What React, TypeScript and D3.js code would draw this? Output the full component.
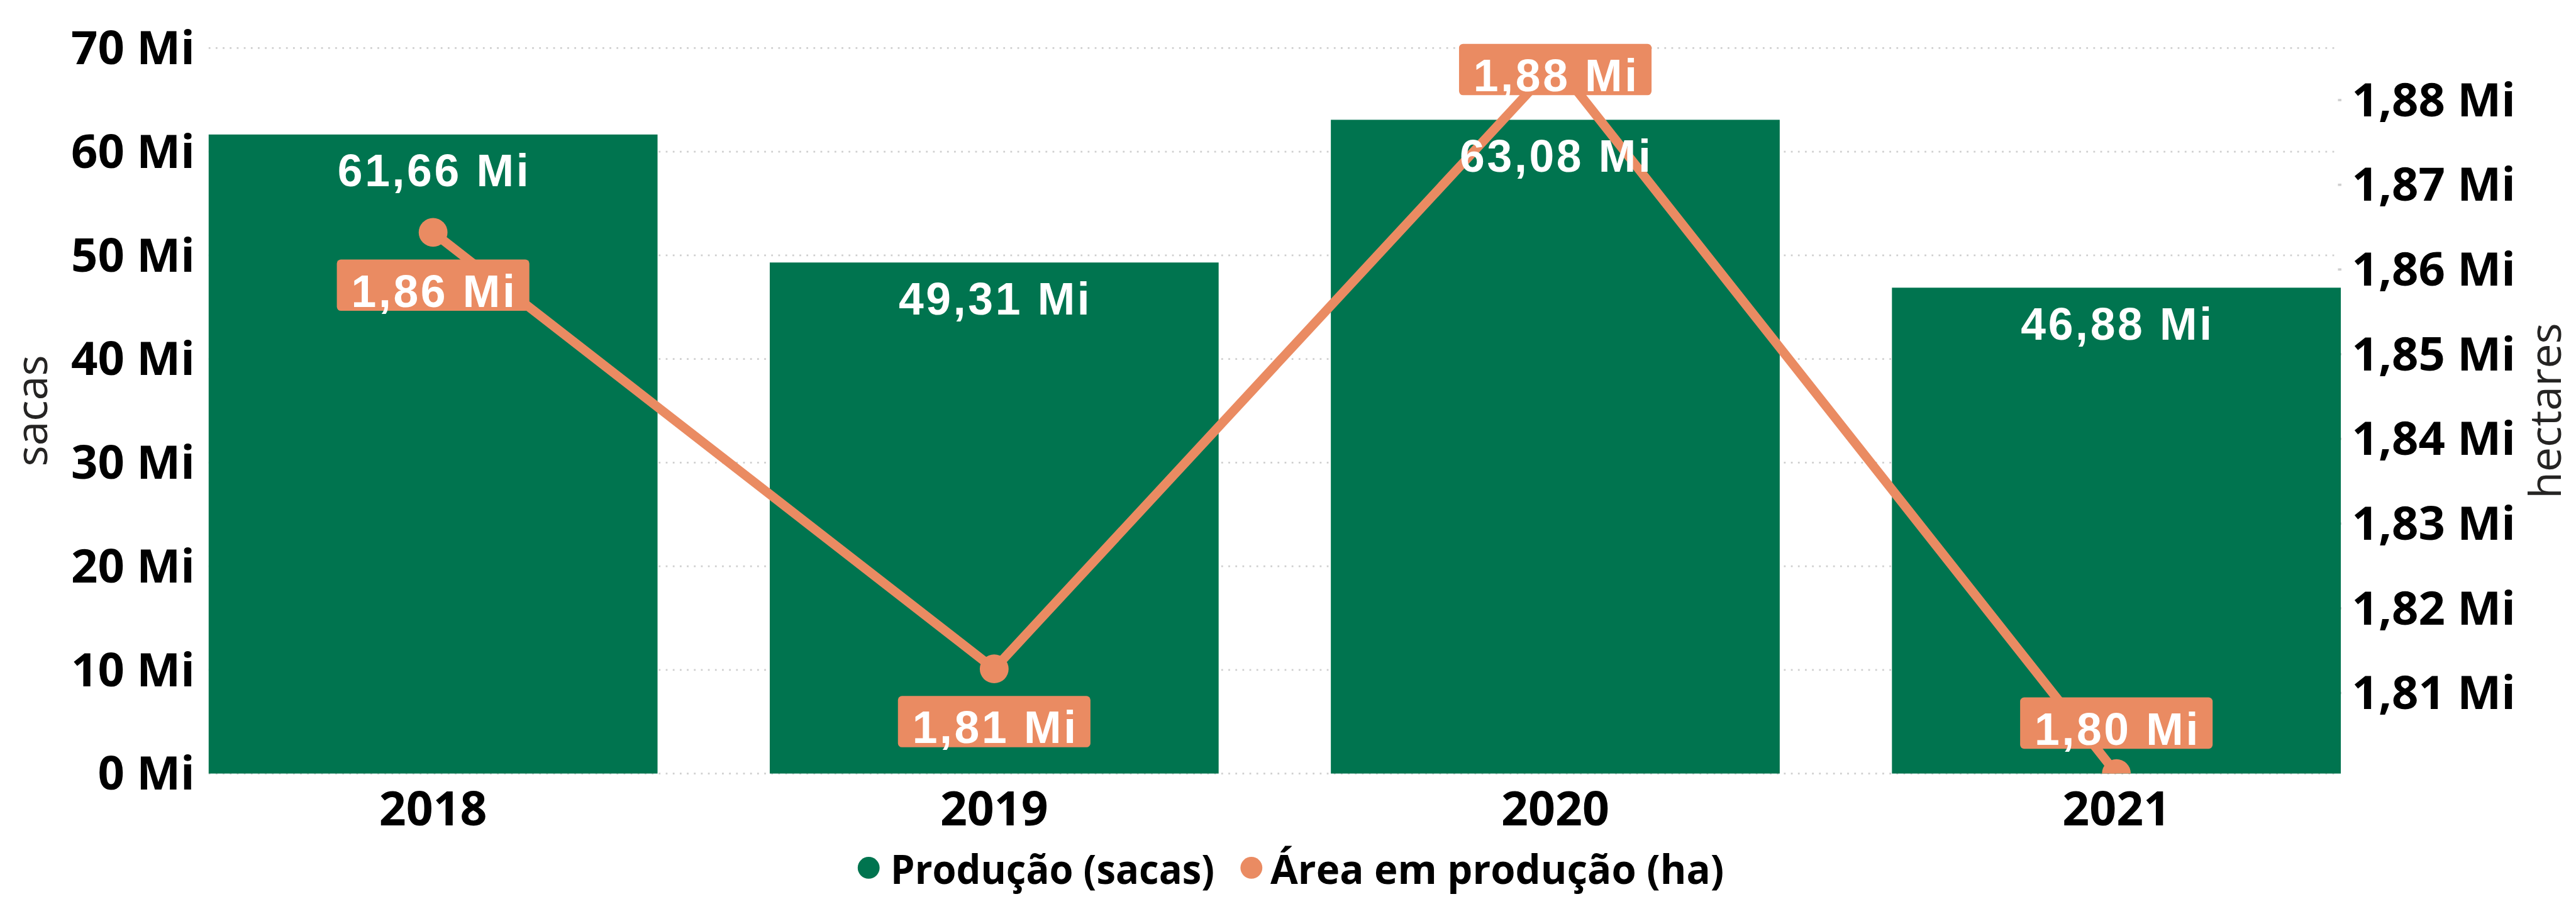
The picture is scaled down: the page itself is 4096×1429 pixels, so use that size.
import React from 'react';
import * as d3 from 'd3';

// ---- data ----
const years: string[] = ['2018', '2019', '2020', '2021'];
const producaoMi: number[] = [61.66, 49.31, 63.08, 46.88]; // sacas (Mi)
const areaMi: number[] = [1.86438, 1.81285, 1.88432, 1.80049]; // hectares (Mi)
const leftTicks: number[] = [0, 10, 20, 30, 40, 50, 60, 70];
const rightTicks: number[] = [1.81, 1.82, 1.83, 1.84, 1.85, 1.86, 1.87, 1.88];
const leftDomain: number[] = [0, 70];
const rightDomain: number[] = [1.80049, 1.88614];
const legendItems: string[] = ['Produção (sacas)', 'Área em produção (ha)'];
const labelPlacement: string[] = ['below', 'below', 'top', 'above'];

// ---- layout (reference pixel space 4469 x 1559) ----
const W = 4469;
const H = 1559;
const plotLeft = 362;
const plotRight = 4061;
const plotTop = 83.3;
const plotBottom = 1341.5;
const GREEN = '#00744F';
const ORANGE = '#EA8B62';
const AXIS_FONT = "'Open Sans', 'Noto Sans', sans-serif";
const LABEL_FONT = "'Liberation Sans', Arial, sans-serif";

const fmt = (v: number) => v.toFixed(2).replace('.', ',') + ' Mi';

export default function App() {
  const x = d3.scaleBand<string>().domain(years).range([plotLeft, plotRight]).paddingInner(0.2).paddingOuter(0);
  const yL = d3.scaleLinear().domain(leftDomain).range([plotBottom, plotTop]);
  const yR = d3.scaleLinear().domain(rightDomain).range([plotBottom, plotTop]);
  const cx = (d: string) => (x(d) as number) + x.bandwidth() / 2;

  const line = d3
    .line<number>()
    .x((_, i) => cx(years[i]))
    .y((d) => yR(d));

  const boxW = 334;
  const boxH = 89;
  const LS = 4;
  const LFS = 78;
  const legendBase = 1533;

  return (
    <svg
      width={4096}
      height={1429}
      viewBox={`0 0 ${W} ${H}`}
      style={{ position: 'absolute', left: 0, top: 0, display: 'block', background: '#fff' }}
    >
      <defs>
        <clipPath id="plotClip">
          <rect x={0} y={0} width={W} height={plotBottom} />
        </clipPath>
      </defs>

      {/* gridlines */}
      {leftTicks.map((t) => (
        <line
          key={'g' + t}
          x1={plotLeft}
          x2={4054}
          y1={yL(t)}
          y2={yL(t)}
          stroke="#CFCFCF"
          strokeWidth={3}
          strokeDasharray="3 9.2"
        />
      ))}
      {rightTicks.map((t) => (
        <line key={'rt' + t} x1={4056} x2={4062} y1={yR(t)} y2={yR(t)} stroke="#CFCFCF" strokeWidth={4} />
      ))}

      {/* bars */}
      {years.map((yr, i) => (
        <rect
          key={'b' + yr}
          x={x(yr)}
          y={yL(producaoMi[i])}
          width={x.bandwidth()}
          height={plotBottom - yL(producaoMi[i])}
          fill={GREEN}
        />
      ))}

      {/* line + markers */}
      <g clipPath="url(#plotClip)">
        <path d={line(areaMi) || ''} fill="none" stroke={ORANGE} strokeWidth={16} strokeLinejoin="round" />
        {years.map((yr, i) => (
          <circle key={'m' + yr} cx={cx(yr)} cy={yR(areaMi[i])} r={25} fill={ORANGE} />
        ))}
      </g>

      {/* bar labels */}
      {years.map((yr, i) => (
        <text
          key={'bl' + yr}
          x={cx(yr) + LS / 2}
          y={yL(producaoMi[i]) + 90}
          textAnchor="middle"
          fill="#fff"
          fontFamily={LABEL_FONT}
          fontWeight={700}
          fontSize={LFS}
          letterSpacing={LS}
        >
          {fmt(producaoMi[i])}
        </text>
      ))}

      {/* line labels */}
      {years.map((yr, i) => {
        const py = yR(areaMi[i]);
        let top: number;
        const p = labelPlacement[i];
        if (p === 'below') top = py + 47;
        else if (p === 'above') top = py - 132;
        else top = 76;
        return (
          <g key={'ll' + yr}>
            <rect x={cx(yr) - boxW / 2} y={top} width={boxW} height={boxH} rx={7} fill={ORANGE} />
            <text
              x={cx(yr) + LS / 2}
              y={top + 82}
              textAnchor="middle"
              fill="#fff"
              fontFamily={LABEL_FONT}
              fontWeight={700}
              fontSize={LFS}
              letterSpacing={LS}
            >
              {fmt(areaMi[i])}
            </text>
          </g>
        );
      })}

      {/* left axis labels */}
      {leftTicks.map((t) => (
        <text
          key={'lt' + t}
          x={338}
          y={yL(t) + 28}
          textAnchor="end"
          fill="#000"
          fontFamily={AXIS_FONT}
          fontWeight={700}
          fontSize={81}
        >
          {`${t} Mi`}
        </text>
      ))}

      {/* right axis labels */}
      {rightTicks.map((t) => (
        <text
          key={'rl' + t}
          x={4080}
          y={yR(t) + 28}
          textAnchor="start"
          fill="#000"
          fontFamily={AXIS_FONT}
          fontWeight={700}
          fontSize={81}
        >
          {fmt(t)}
        </text>
      ))}

      {/* x axis labels */}
      {years.map((yr) => (
        <text
          key={'xl' + yr}
          x={cx(yr)}
          y={1431}
          textAnchor="middle"
          fill="#000"
          fontFamily={AXIS_FONT}
          fontWeight={700}
          fontSize={82}
        >
          {yr}
        </text>
      ))}

      {/* axis titles */}
      <text
        transform={`translate(82, ${(plotTop + plotBottom) / 2}) rotate(-90)`}
        textAnchor="middle"
        fill="#252423"
        fontFamily={AXIS_FONT}
        fontSize={76}
      >
        sacas
      </text>
      <text
        transform={`translate(4443, ${(plotTop + plotBottom) / 2}) rotate(-90)`}
        textAnchor="middle"
        fill="#252423"
        fontFamily={AXIS_FONT}
        fontSize={76}
      >
        hectares
      </text>

      {/* legend */}
      <circle cx={1507} cy={legendBase - 28} r={19} fill={GREEN} />
      <text
        x={1545}
        y={legendBase}
        fill="#000"
        fontFamily={AXIS_FONT}
        fontWeight={700}
        fontSize={70}
        textLength={562}
        lengthAdjust="spacingAndGlyphs"
      >
        {legendItems[0]}
      </text>
      <circle cx={2171} cy={legendBase - 28} r={19} fill={ORANGE} />
      <text
        x={2204}
        y={legendBase}
        fill="#000"
        fontFamily={AXIS_FONT}
        fontWeight={700}
        fontSize={70}
        textLength={787}
        lengthAdjust="spacingAndGlyphs"
      >
        {legendItems[1]}
      </text>
    </svg>
  );
}
